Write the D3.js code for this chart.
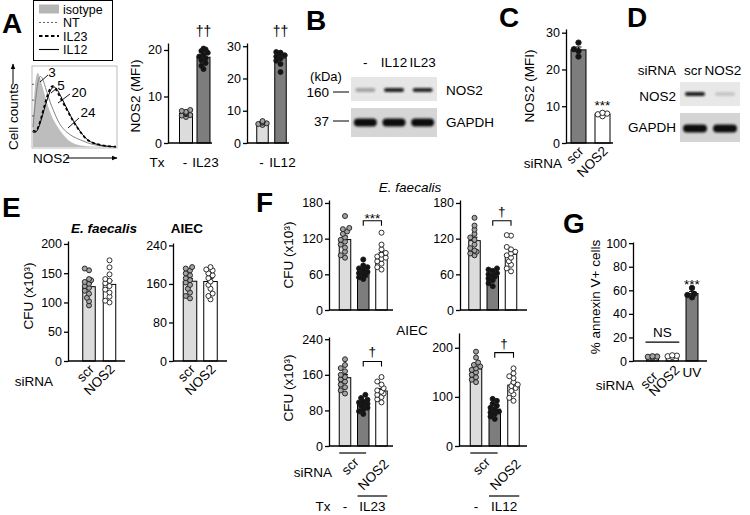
<!DOCTYPE html>
<html>
<head>
<meta charset="utf-8">
<script src="https://cdn.jsdelivr.net/npm/d3@7"></script>
<style>
  body { margin: 0; background: #fff; }
  svg { display: block; }
</style>
</head>
<body>
<svg id="fig" width="750" height="515"></svg>
<script>
/** ---------- Data ---------- */

/** Panel A histogram: [NOS2 intensity (0-100), % of max] */
const histIsotype = [[0,30],[2,80],[5,97],[8,90],[11,78],[15,63],[19,48],[24,35],[30,25],[37,14],[45,6],[55,2],[65,0.5],[100,0]];
const histNT = [[0,25],[3,60],[6,85],[9,91],[12,86],[16,72],[20,58],[25,45],[32,28],[40,19],[48,13],[57,9],[66,5],[76,2],[88,0.5],[100,0]];
const histIL23 = [[0,21],[5,18],[12,45],[17,65],[22,78],[26,77],[33,62],[41,47],[47,35],[53,25],[59,16],[65,9],[72,5],[81,2.5],[90,1],[100,0.5]];
const histIL12 = [[0,19],[5,17],[12,42],[18,64],[23,77],[28,76],[35,61],[42,46],[48,34],[54,24],[60,15],[66,8.5],[73,4.5],[82,2],[91,0.8],[100,0.3]];
const histLegend = ["isotype", "NT", "IL23", "IL12"];
const histMFI = ["3", "5", "20", "24"];

/** Panel A bars: NOS2 (MFI) */
const aIL23Groups = ["-", "IL23"];
const aIL23Values = [
  [5.6, 5.9, 6.0, 6.2, 6.3, 6.4, 6.5, 6.7, 6.9, 7.1],
  [15.9, 16.6, 17.2, 17.8, 18.2, 18.6, 19.0, 19.4, 19.8, 20.1, 20.3]
];
const aIL12Groups = ["-", "IL12"];
const aIL12Values = [
  [5.6, 5.9, 6.1, 6.3, 6.5, 6.8],
  [22.0, 24.5, 25.5, 26.2, 26.8, 27.2, 27.6, 27.8, 28.0, 28.2]
];

/** Panel B western blot (relative band intensity) */
const bLanes = ["-", "IL12", "IL23"];
const bNOS2 = [0.3, 0.9, 0.88];
const bGAPDH = [1, 1, 1];
const bMarkers = ["160", "37"];

/** Panel C: NOS2 (MFI) after siRNA */
const cGroups = ["scr", "NOS2"];
const cValues = [
  [23.5, 25.0, 25.5, 27.3],
  [7.3, 7.8, 8.0, 8.2]
];

/** Panel D western blot */
const dLanes = ["scr", "NOS2"];
const dNOS2 = [0.92, 0.15];
const dGAPDH = [1, 1];

/** Panel E: CFU (x10^3) */
const eGroups = ["scr", "NOS2"];
const eFaecalis = [
  [95, 102, 108, 115, 120, 125, 128, 132, 135, 138, 140, 155, 158],
  [100, 103, 110, 117, 122, 128, 133, 137, 140, 148, 160, 172]
];
const eAIEC = [
  [130, 135, 142, 150, 158, 163, 168, 172, 178, 182, 188, 192, 195],
  [128, 135, 140, 150, 158, 165, 172, 178, 182, 188, 190, 195]
];

/** Panel F: CFU (x10^3); groups = Tx - / scr, Tx / scr, Tx / NOS2 */
const fGroups = ["ctrl", "scr", "NOS2"];
const fFaecalisIL23 = [
  [88, 92, 98, 105, 110, 115, 118, 122, 128, 132, 136, 138, 158],
  [52, 55, 58, 60, 62, 64, 66, 68, 70, 72, 75, 85],
  [68, 72, 78, 82, 86, 88, 90, 93, 96, 102, 110, 130]
];
const fFaecalisIL12 = [
  [92, 95, 98, 100, 104, 110, 118, 122, 128, 135, 142, 155],
  [40, 45, 50, 53, 56, 58, 60, 62, 66, 68, 70],
  [65, 70, 76, 82, 88, 92, 95, 98, 102, 106, 125, 126]
];
const fAIECIL23 = [
  [118, 125, 132, 138, 145, 150, 155, 160, 168, 175, 182, 195],
  [72, 78, 82, 86, 90, 92, 95, 98, 100, 104, 108, 115],
  [98, 105, 110, 115, 118, 122, 125, 130, 138, 145, 155]
];
const fAIECIL12 = [
  [130, 135, 140, 145, 150, 155, 158, 162, 165, 170, 180, 192],
  [55, 60, 65, 68, 70, 72, 75, 78, 82, 86, 92, 96],
  [92, 98, 105, 112, 118, 122, 125, 130, 138, 142, 148, 158]
];

/** Panel G: % annexin V+ cells */
const gGroups = ["scr", "NOS2", "UV"];
const gValues = [
  [3.0, 3.5, 4.0, 3.8],
  [3.5, 4.5, 4.8, 4.0],
  [54, 56, 57, 62]
];

/** ---------- Styles ---------- */
const FONT = '"Liberation Sans", Arial, Helvetica, sans-serif';
const LIGHT = "#dcdcdc", DARK = "#7d7d7d", WHITE = "#ffffff";
const DOT_GRAY = "#a3a3a3", DOT_BLACK = "#141414", DOT_WHITE = "#ffffff";

const svg = d3.select("#fig").attr("font-family", FONT);
svg.append("rect").attr("width", 750).attr("height", 515).attr("fill", "#fff");

const defs = svg.append("defs");
defs.append("filter").attr("id", "blur")
  .attr("x", "-50%").attr("y", "-100%").attr("width", "200%").attr("height", "300%")
  .append("feGaussianBlur").attr("stdDeviation", 0.9);

/** Text helpers */
const text = (x, y, s, o = {}) => svg.append("text")
  .attr("x", x).attr("y", y)
  .attr("font-size", o.size || 13.5)
  .attr("font-weight", o.weight || null)
  .attr("font-style", o.style || null)
  .attr("text-anchor", o.anchor || "middle")
  .attr("fill", "#000")
  .text(s);

const vText = (x, y, s, size = 13.5) => svg.append("text")
  .attr("transform", `translate(${x},${y}) rotate(-90)`)
  .attr("font-size", size).attr("text-anchor", "middle").attr("fill", "#000")
  .text(s);

const rotLabel = (x, y, s, size = 13.5) => svg.append("text")
  .attr("transform", `translate(${x},${y}) rotate(-45)`)
  .attr("font-size", size).attr("text-anchor", "end").attr("fill", "#000")
  .text(s);

const panelLetter = (x, y, s) => text(x, y, s, { size: 28, weight: "bold", anchor: "start" });

/** Simple beeswarm: spread overlapping dots sideways */
const swarm = (vals, y, cx, r, maxOff) => {
  const pts = [];
  const offs = [0];
  for (let k = 1; k < 8; k++) offs.push(-k * r * 0.85, k * r * 0.85);
  vals.slice().sort((a, b) => a - b).forEach((v) => {
    const py = y(v);
    let o = offs.find((o) => Math.abs(o) <= maxOff &&
      pts.every((p) => Math.hypot(p.x - (cx + o), p.y - py) >= r * 1.55));
    if (o === undefined) o = 0;
    pts.push({ x: cx + o, y: py, v });
  });
  return pts;
};

/** Bar + dot chart */
const barChart = (c) => {
  const g = svg.append("g");
  const y = d3.scaleLinear().domain(c.domain).range(c.yRange);
  const step = (c.xRange[1] - c.xRange[0]) / c.groups.length;
  const pad = 1 - c.bw / step;
  const x = d3.scaleBand().domain(c.groups).range(c.xRange).paddingInner(pad).paddingOuter(pad / 2);
  const r = c.r || 2.5;

  const stats = c.groups.map((grp, i) => {
    const vals = c.values[i];
    return {
      grp, vals,
      mean: d3.mean(vals),
      sem: d3.deviation(vals) / Math.sqrt(vals.length),
      fill: c.fills[i], dot: c.dots[i]
    };
  });

  /** Bars */
  g.selectAll("rect.bar").data(stats).join("rect")
    .attr("class", "bar")
    .attr("x", (d) => x(d.grp))
    .attr("y", (d) => y(d.mean))
    .attr("width", x.bandwidth())
    .attr("height", (d) => y(0) - y(d.mean))
    .attr("fill", (d) => d.fill)
    .attr("stroke", "#000").attr("stroke-width", 1);

  /** Error bars (mean ± SEM) */
  const eb = g.selectAll("g.err").data(stats).join("g").attr("class", "err")
    .attr("stroke", "#000").attr("stroke-width", 1);
  eb.append("line")
    .attr("x1", (d) => x(d.grp) + x.bandwidth() / 2).attr("x2", (d) => x(d.grp) + x.bandwidth() / 2)
    .attr("y1", (d) => y(d.mean - d.sem)).attr("y2", (d) => y(d.mean + d.sem));
  eb.append("line")
    .attr("x1", (d) => x(d.grp) + x.bandwidth() / 2 - 3).attr("x2", (d) => x(d.grp) + x.bandwidth() / 2 + 3)
    .attr("y1", (d) => y(d.mean + d.sem)).attr("y2", (d) => y(d.mean + d.sem));

  /** Dots */
  stats.forEach((s) => {
    const pts = swarm(s.vals, y, x(s.grp) + x.bandwidth() / 2, r, x.bandwidth() / 2 - 1);
    g.selectAll(null).data(pts).join("circle")
      .attr("cx", (d) => d.x).attr("cy", (d) => d.y).attr("r", r)
      .attr("fill", s.dot).attr("stroke", "#1a1a1a").attr("stroke-width", 0.9);
  });

  /** Y axis */
  const ax = g.append("g")
    .attr("transform", `translate(${c.axisX},0)`)
    .call(d3.axisLeft(y).tickValues(c.ticks).tickSize(4).tickSizeOuter(0).tickPadding(2));
  ax.attr("font-family", FONT).attr("font-size", 12.5);
  ax.select(".domain").attr("stroke-width", 1.3);
  ax.selectAll(".tick line").attr("stroke-width", 1.3);
  ax.selectAll(".tick text").attr("fill", "#000");

  /** X baseline */
  g.append("line")
    .attr("x1", c.axisX).attr("x2", c.xEnd)
    .attr("y1", y(0)).attr("y2", y(0))
    .attr("stroke", "#000").attr("stroke-width", 1.3);

  const cx = (grp) => x(grp) + x.bandwidth() / 2;
  return { x, y, stats, cx, g };
};

/** Significance bracket */
const bracket = (chart, g1, g2, value, label) => {
  const yb = chart.y(value);
  const x1 = chart.cx(g1), x2 = chart.cx(g2);
  svg.append("path")
    .attr("d", `M${x1},${yb + 5}V${yb}H${x2}V${yb + 5}`)
    .attr("fill", "none").attr("stroke", "#000").attr("stroke-width", 1.1);
  text((x1 + x2) / 2, label === "***" ? yb + 2 : yb - 5, label, { size: 13.5 });
};

/** Western blot */
const blot = (cfg) => {
  const lx = d3.scaleBand().domain(cfg.lanes).range([cfg.x0, cfg.x1]);
  cfg.rows.forEach((row) => {
    svg.append("rect")
      .attr("x", cfg.x0).attr("y", row.y0)
      .attr("width", cfg.x1 - cfg.x0).attr("height", row.y1 - row.y0)
      .attr("fill", row.bg);
    svg.selectAll(null).data(row.bands).join("rect")
      .attr("x", (d, i) => lx(cfg.lanes[i]) + lx.bandwidth() / 2 - row.bw / 2)
      .attr("y", (row.y0 + row.y1) / 2 + (row.dy || 0) - row.bh / 2)
      .attr("width", row.bw).attr("height", row.bh)
      .attr("rx", row.bh / 2)
      .attr("fill", "#111").attr("opacity", (d) => d)
      .attr("filter", "url(#blur)");
  });
  return lx;
};

/** ---------- Panel A ---------- */
panelLetter(2, 33, "A");

/** Legend */
svg.append("rect").attr("x", 33.5).attr("y", 0.5).attr("width", 79).attr("height", 60)
  .attr("fill", "none").attr("stroke", "#000").attr("stroke-width", 1);
const legStyles = [
  { type: "fill" },
  { stroke: "#666", w: 1, dash: "2,2" },
  { stroke: "#000", w: 2, dash: "3.5,2.5" },
  { stroke: "#000", w: 1.1, dash: null }
];
histLegend.forEach((lab, i) => {
  const cy = 9 + i * 13.5;
  const st = legStyles[i];
  if (st.type === "fill") {
    svg.append("rect").attr("x", 39).attr("y", cy - 4.5).attr("width", 20).attr("height", 9).attr("fill", "#b5b5b5");
  } else {
    svg.append("line").attr("x1", 39).attr("x2", 59).attr("y1", cy).attr("y2", cy)
      .attr("stroke", st.stroke).attr("stroke-width", st.w).attr("stroke-dasharray", st.dash);
  }
  text(63, cy + 4.5, lab, { anchor: "start", size: 12.5 });
});

/** Histogram */
const hx = d3.scaleLinear().domain([0, 100]).range([33, 116]);
const hy = d3.scaleLinear().domain([0, 100]).range([147, 68]);
svg.append("rect").attr("x", 32).attr("y", 66).attr("width", 85).attr("height", 82)
  .attr("fill", "none").attr("stroke", "#aaa").attr("stroke-width", 0.8);
svg.append("path").datum(histIsotype)
  .attr("d", d3.area().x((d) => hx(d[0])).y0(hy(0)).y1((d) => hy(d[1])).curve(d3.curveBasis))
  .attr("fill", "#bdbdbd");
const hLine = d3.line().x((d) => hx(d[0])).y((d) => hy(d[1])).curve(d3.curveBasis);
svg.append("path").datum(histNT).attr("d", hLine)
  .attr("fill", "none").attr("stroke", "#777").attr("stroke-width", 0.9);
svg.append("path").datum(histIL12).attr("d", hLine)
  .attr("fill", "none").attr("stroke", "#000").attr("stroke-width", 1);
svg.append("path").datum(histIL23).attr("d", hLine)
  .attr("fill", "none").attr("stroke", "#000").attr("stroke-width", 1.8).attr("stroke-dasharray", "3,2.5");
/** Left-side ticks */
svg.append("g").attr("transform", "translate(32,0)")
  .call(d3.axisRight(hy).tickValues([20, 40, 60, 80]).tickSize(2).tickFormat(""))
  .call((a) => a.select(".domain").remove())
  .selectAll("line").attr("stroke", "#555");

/** MFI labels with leaders */
const mfiLabels = [
  { s: histMFI[0], tx: 52, ty: 77, x1: 40, y1: 82, x2: 48, y2: 75 },
  { s: histMFI[1], tx: 61, ty: 90, x1: 51, y1: 93, x2: 57, y2: 88 },
  { s: histMFI[2], tx: 79, ty: 97, x1: 58, y1: 103, x2: 70, y2: 94 },
  { s: histMFI[3], tx: 88, ty: 117, x1: 68, y1: 128, x2: 79, y2: 118 }
];
mfiLabels.forEach((m) => {
  svg.append("line").attr("x1", m.x1).attr("y1", m.y1).attr("x2", m.x2).attr("y2", m.y2)
    .attr("stroke", "#000").attr("stroke-width", 0.9);
  text(m.tx, m.ty, m.s, { size: 13.5 });
});

/** Histogram axis labels with arrows */
defs.append("marker").attr("id", "arrow").attr("viewBox", "0 0 10 10")
  .attr("refX", 9).attr("refY", 5).attr("markerWidth", 6).attr("markerHeight", 6)
  .attr("orient", "auto")
  .append("path").attr("d", "M0,1L10,5L0,9Z").attr("fill", "#000");
text(33, 163, "NOS2", { anchor: "start", size: 13.5 });
svg.append("line").attr("x1", 66).attr("x2", 117).attr("y1", 158).attr("y2", 158)
  .attr("stroke", "#000").attr("stroke-width", 1).attr("marker-end", "url(#arrow)");
svg.append("text").attr("transform", "translate(18,150) rotate(-90)")
  .attr("font-size", 13.5).attr("text-anchor", "start").text("Cell counts");
svg.append("line").attr("x1", 13).attr("x2", 13).attr("y1", 84).attr("y2", 64)
  .attr("stroke", "#000").attr("stroke-width", 1).attr("marker-end", "url(#arrow)");

/** A bar charts */
const chartA1 = barChart({
  groups: aIL23Groups, values: aIL23Values,
  domain: [0, 21.5], yRange: [143, 43], xRange: [177.25, 212.25], bw: 13,
  axisX: 168, xEnd: 212, ticks: [0, 10, 20],
  fills: [LIGHT, DARK], dots: [DOT_GRAY, DOT_BLACK], r: 2.5
});
const chartA2 = barChart({
  groups: aIL12Groups, values: aIL12Values,
  domain: [0, 31], yRange: [143, 43], xRange: [253.5, 289.5], bw: 11.5,
  axisX: 247, xEnd: 289, ticks: [0, 10, 20, 30],
  fills: [LIGHT, DARK], dots: [DOT_GRAY, DOT_BLACK], r: 2.5
});
vText(140, 96, "NOS2 (MFI)");
text(157, 167, "Tx");
[chartA1, chartA2].forEach((ch, k) => {
  const grps = k === 0 ? aIL23Groups : aIL12Groups;
  text(ch.cx(grps[0]) - 1, 167, grps[0]);
  text(ch.cx(grps[1]) + 2, 167, grps[1]);
  text(ch.cx(grps[1]), 36, "††", { size: 14 });
});

/** ---------- Panel B ---------- */
panelLetter(306, 30, "B");
text(326, 81, "(kDa)", { size: 13 });
const bLx = blot({
  lanes: bLanes, x0: 351, x1: 437,
  rows: [
    { y0: 77, y1: 101, bg: "#e6e6e6", bands: bNOS2, bw: 20, bh: 4, dy: 1 },
    { y0: 108, y1: 137, bg: "#d6d6d6", bands: bGAPDH, bw: 23, bh: 8, dy: 0 }
  ]
});
bLanes.forEach((l) => text(bLx(l) + bLx.bandwidth() / 2, 67, l));
[{ y: 92 }, { y: 121 }].forEach((m, i) => {
  text(329, m.y + 5, bMarkers[i], { anchor: "end" });
  svg.append("line").attr("x1", 333).attr("x2", 349).attr("y1", m.y).attr("y2", m.y)
    .attr("stroke", "#000").attr("stroke-width", 1);
});
text(446, 95, "NOS2", { anchor: "start" });
text(446, 127, "GAPDH", { anchor: "start" });

/** ---------- Panel C ---------- */
panelLetter(499, 27, "C");
const chartC = barChart({
  groups: cGroups, values: cValues,
  domain: [0, 31], yRange: [143, 29], xRange: [566.5, 614.5], bw: 15,
  axisX: 566, xEnd: 613, ticks: [0, 10, 20, 30],
  fills: [DARK, WHITE], dots: [DOT_BLACK, DOT_WHITE], r: 2.7
});
vText(534, 86, "NOS2 (MFI)");
text(543, 168, "siRNA");
cGroups.forEach((gname) => rotLabel(chartC.cx(gname) + 6, 152, gname));
text(chartC.cx("NOS2"), chartC.y(d3.max(cValues[1])) - 3, "***");

/** ---------- Panel D ---------- */
panelLetter(627, 27, "D");
const dLx = blot({
  lanes: dLanes, x0: 680, x1: 740,
  rows: [
    { y0: 82, y1: 106, bg: "#e8e8e8", bands: dNOS2, bw: 20, bh: 4, dy: 0 },
    { y0: 113, y1: 142, bg: "#d4d4d4", bands: dGAPDH, bw: 24, bh: 8, dy: 1 }
  ]
});
text(676, 75, "siRNA", { anchor: "end" });
dLanes.forEach((l) => text(dLx(l) + dLx.bandwidth() / 2 - 2, 75, l));
text(676, 101, "NOS2", { anchor: "end" });
text(676, 132, "GAPDH", { anchor: "end" });

/** ---------- Panel E ---------- */
panelLetter(2, 217, "E");
text(104, 233, "E. faecalis", { weight: "bold", style: "italic" });
text(187, 233, "AIEC", { weight: "bold" });
const chartE1 = barChart({
  groups: eGroups, values: eFaecalis,
  domain: [0, 205], yRange: [361, 241], xRange: [78.75, 119.75], bw: 12.5,
  axisX: 68, xEnd: 125, ticks: [0, 50, 100, 150, 200],
  fills: [LIGHT, WHITE], dots: [DOT_GRAY, DOT_WHITE], r: 2.5
});
const chartE2 = barChart({
  groups: eGroups, values: eAIEC,
  domain: [0, 245], yRange: [361, 243], xRange: [179.75, 220.75], bw: 13.5,
  axisX: 173, xEnd: 227, ticks: [0, 80, 160, 240],
  fills: [LIGHT, WHITE], dots: [DOT_GRAY, DOT_WHITE], r: 2.5
});
vText(33, 296, "CFU (x10³)");
text(34, 386, "siRNA");
[chartE1, chartE2].forEach((ch) => eGroups.forEach((gname) => rotLabel(ch.cx(gname) + 6, 370, gname)));

/** ---------- Panel F ---------- */
panelLetter(256, 212, "F");
text(410, 192, "E. faecalis", { style: "italic" });
text(412, 335, "AIEC");
const fCommon = { groups: fGroups, bw: 11.5, fills: [LIGHT, DARK, WHITE], dots: [DOT_GRAY, DOT_BLACK, DOT_WHITE], r: 2.5 };
const chartF1 = barChart({ ...fCommon, values: fFaecalisIL23,
  domain: [0, 185], yRange: [310, 200], xRange: [335.875, 390.625],
  axisX: 329, xEnd: 393, ticks: [0, 60, 120, 180] });
const chartF2 = barChart({ ...fCommon, values: fFaecalisIL12,
  domain: [0, 185], yRange: [310, 200], xRange: [465.375, 520.125],
  axisX: 460, xEnd: 527, ticks: [0, 60, 120, 180] });
const chartF3 = barChart({ ...fCommon, values: fAIECIL23,
  domain: [0, 245], yRange: [446, 337], xRange: [335.875, 390.625],
  axisX: 329, xEnd: 393, ticks: [0, 80, 160, 240] });
const chartF4 = barChart({ ...fCommon, values: fAIECIL12,
  domain: [0, 230], yRange: [446, 333], xRange: [466.625, 522.875],
  axisX: 459, xEnd: 527, ticks: [0, 100, 200] });
vText(293, 255, "CFU (x10³)");
vText(293, 388, "CFU (x10³)");
bracket(chartF1, "scr", "NOS2", 150, "***");
bracket(chartF2, "scr", "NOS2", 150, "†");
bracket(chartF3, "scr", "NOS2", 190, "†");
bracket(chartF4, "scr", "NOS2", 190, "†");

/** F treatment annotations */
text(313, 477, "siRNA");
text(323, 511, "Tx");
[{ ch: chartF3, tx: "IL23" }, { ch: chartF4, tx: "IL12" }].forEach(({ ch, tx }) => {
  const bw = ch.x.bandwidth();
  const scrL = ch.x("ctrl"), scrR = ch.x("scr") + bw * 0.75;
  svg.append("line").attr("x1", scrL).attr("x2", scrR).attr("y1", 453).attr("y2", 453)
    .attr("stroke", "#000").attr("stroke-width", 1.2);
  rotLabel((scrL + scrR) / 2 + 7, 463, "scr");
  rotLabel(ch.cx("NOS2") + 8, 465, "NOS2");
  const txL = ch.x("scr"), txR = ch.x("NOS2") + bw;
  svg.append("line").attr("x1", txL).attr("x2", txR).attr("y1", 496).attr("y2", 496)
    .attr("stroke", "#000").attr("stroke-width", 1.2);
  text(ch.cx("ctrl"), 511, "-");
  text((txL + txR) / 2, 511, tx);
});

/** ---------- Panel G ---------- */
panelLetter(563, 233, "G");
const chartG = barChart({
  groups: gGroups, values: gValues,
  domain: [0, 101], yRange: [361, 242], xRange: [642.625, 701.875], bw: 12,
  axisX: 633, xEnd: 707, ticks: [0, 20, 40, 60, 80, 100],
  fills: [LIGHT, WHITE, DARK], dots: [DOT_GRAY, DOT_WHITE, DOT_BLACK], r: 2.7
});
vText(600, 297, "% annexin V+ cells");
text(615, 390, "siRNA");
rotLabel(chartG.cx("scr") + 6, 377, "scr");
rotLabel(chartG.cx("NOS2") + 8, 371, "NOS2");
text(chartG.cx("UV"), 377, "UV");
text(chartG.cx("UV"), chartG.y(d3.max(gValues[2])) + 1, "***");
const nsY = chartG.y(16);
svg.append("line").attr("x1", chartG.x("scr") - 1).attr("x2", chartG.x("NOS2") + chartG.x.bandwidth() + 1)
  .attr("y1", nsY).attr("y2", nsY).attr("stroke", "#000").attr("stroke-width", 1.2);
text((chartG.cx("scr") + chartG.cx("NOS2")) / 2, nsY - 5, "NS");
</script>
</body>
</html>
